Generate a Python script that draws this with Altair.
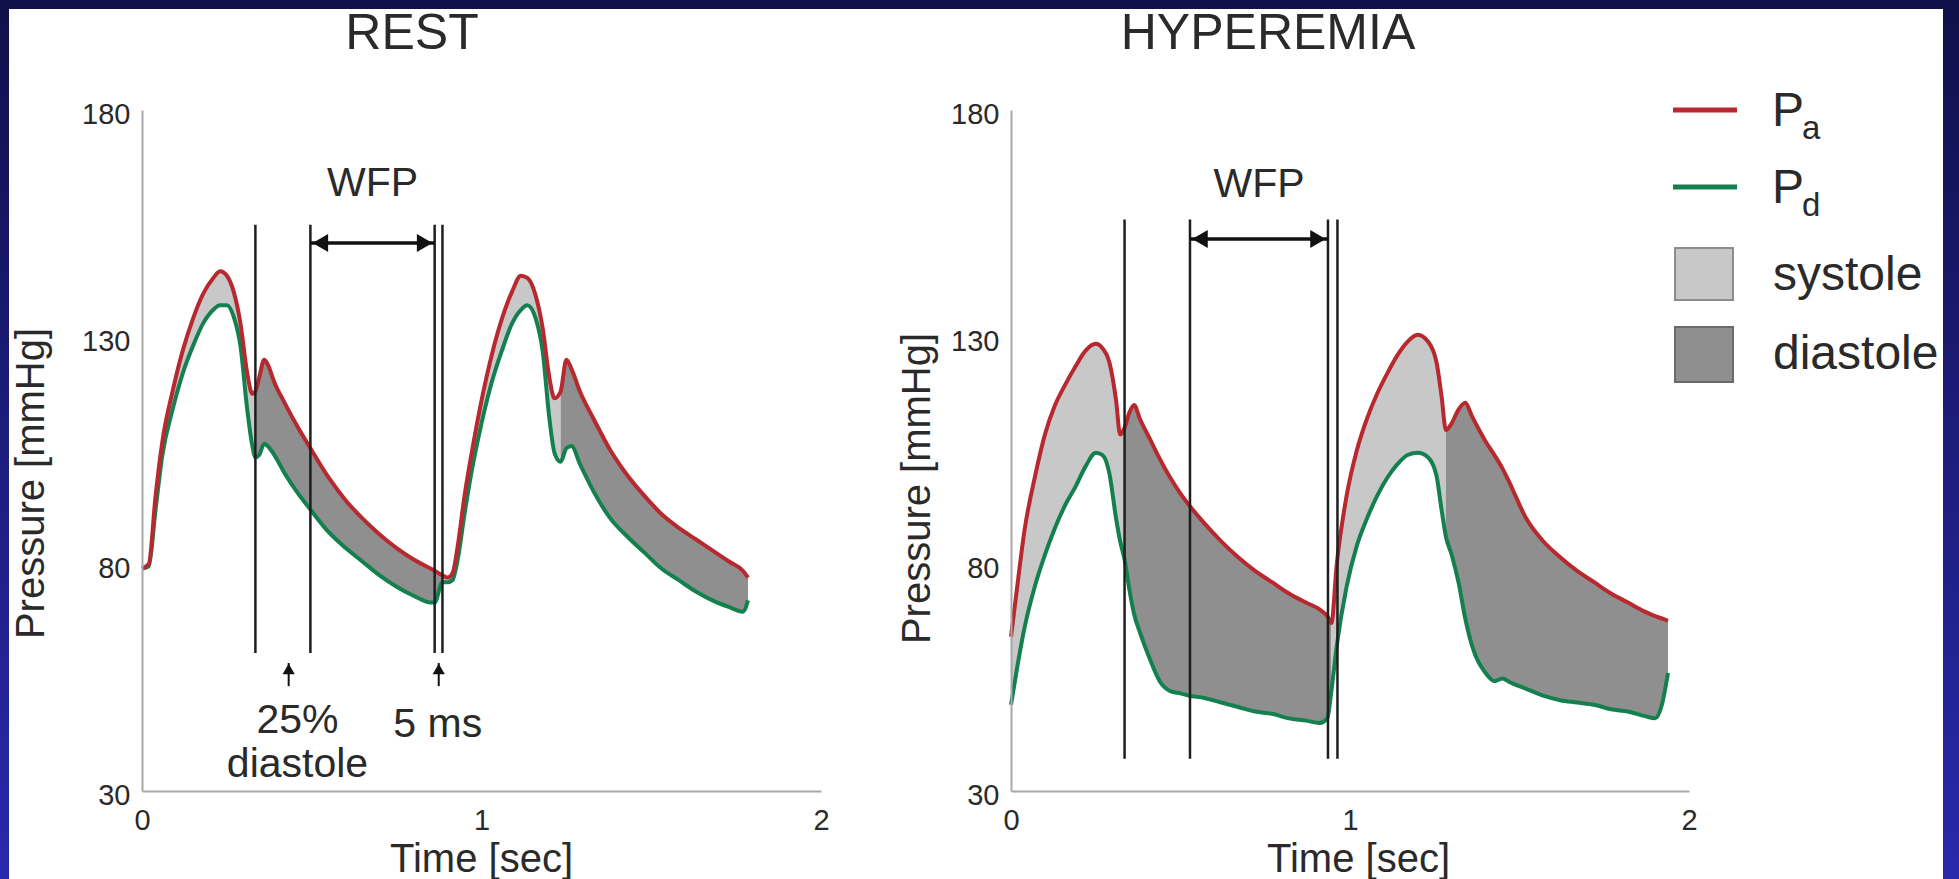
import altair as alt
import pandas as pd

FONT = "Liberation Sans"
RED = "#b8282f"
GREEN = "#14804f"
SYS_FILL = "#c8c8c8"
DIA_FILL = "#8f8f8f"
TXT = "#2a2a2a"

# ---------------- REST panel data ----------------
rest_t = [0.00, 0.02, 0.04, 0.06, 0.09, 0.12, 0.15, 0.18, 0.21, 0.23, 0.25, 0.27, 0.29, 0.31,
          0.325, 0.334, 0.345, 0.36, 0.37, 0.39, 0.42, 0.46, 0.496, 0.55, 0.60, 0.65, 0.70,
          0.75, 0.80, 0.85, 0.862, 0.885, 0.90, 0.915, 0.93, 0.95, 0.97, 1.00, 1.03, 1.06,
          1.09, 1.116, 1.135, 1.16, 1.18, 1.20, 1.215, 1.233, 1.25, 1.265, 1.29, 1.33, 1.38,
          1.43, 1.48, 1.53, 1.58, 1.63, 1.68, 1.73, 1.77, 1.785]
rest_pa = [79, 80, 95, 107, 118, 127, 134, 139.5, 143, 144.5, 143.5, 140, 133, 122,
           117.5, 118, 121, 125, 124, 120, 115.5, 110, 105.5, 99, 94, 90, 86.5,
           83.5, 81, 79, 78.5, 77.5, 77, 78, 84, 95, 104, 116, 126, 134,
           140, 143.5, 143, 139, 132, 121, 116.5, 118, 125, 123, 118, 112, 105,
           99.5, 95, 91, 88, 85.5, 83, 80.5, 78.5, 77]
rest_pd = [79, 79.5, 92, 104, 114, 122, 128, 133, 136, 137, 137, 134.5, 128, 114,
           106, 103.5, 104, 106.5, 106, 104, 100, 95.5, 92, 87, 83.5, 80.5, 77.5,
           75, 73, 71.5, 71.5, 76, 76, 76.5, 81, 91, 100, 111, 120, 127,
           133, 136, 137, 134, 127, 112, 104.5, 102.5, 105.5, 106, 102, 96, 90,
           86, 82.5, 79, 76.5, 74, 72, 70.5, 69.5, 72]
rest_edges = [0.0, 0.334, 0.885, 1.233, 1.785]
rest_phases = ["systole", "diastole", "systole", "diastole"]
rest_vlines = [0.334, 0.496, 0.862, 0.885]
rest_vline_span = [60.4, 154.7]
rest_wfp = [0.496, 0.862]
rest_wfp_p = 150.7
rest_wfp_text_p = 163.7
rest_up_arrows_t = [0.432, 0.874]
rest_up_arrow_span = [53.1, 58.2]
rest_notes_text = ["25%", "diastole", "5 ms"]
rest_notes_t = [0.458, 0.458, 0.871]
rest_notes_p = [45.4, 35.7, 44.5]

# ---------------- HYPEREMIA panel data ----------------
hyp_t = [0.00, 0.02, 0.04, 0.07, 0.10, 0.13, 0.16, 0.19, 0.22, 0.25, 0.27, 0.29, 0.31, 0.322,
         0.335, 0.35, 0.363, 0.38, 0.41, 0.44, 0.47, 0.50, 0.525, 0.57, 0.62, 0.67, 0.72,
         0.77, 0.82, 0.87, 0.91, 0.933, 0.945, 0.961, 0.99, 1.02, 1.05, 1.08, 1.11, 1.14,
         1.17, 1.20, 1.23, 1.255, 1.27, 1.283, 1.30, 1.32, 1.34, 1.36, 1.40, 1.426, 1.45,
         1.47, 1.52, 1.57, 1.62, 1.67, 1.72, 1.77, 1.82, 1.87, 1.90, 1.92, 1.938]
hyp_pa = [64, 76, 87.5, 99, 108.5, 115, 119.5, 123.5, 127, 128.5, 127.5, 124.5, 116, 108.5,
          110, 113.5, 115, 112, 107.5, 103, 99, 95.5, 93, 89, 85, 81.5, 78.5,
          76, 73.5, 71.5, 70, 68.5, 67, 80, 95, 105, 112, 117.5, 122, 126,
          129, 130.5, 129, 124.5, 117, 109.5, 111, 114, 115.5, 112.5, 107, 104, 101,
          98, 90, 85, 81.5, 78.5, 76, 73.5, 71.5, 69.5, 68.5, 68, 67.5]
hyp_pd = [49, 58, 66, 75, 82, 88, 93, 97, 101.5, 104.5, 104, 100, 90, 85,
          81, 74, 69, 65, 59, 54, 52, 51.5, 51, 50.5, 49.5, 48.5, 47.5,
          47, 46, 45.5, 45, 46, 52, 62, 75, 84, 90, 95, 99, 102,
          104, 104.5, 103.5, 99.5, 92, 86, 82, 76, 68, 62, 56, 54.2, 54.8,
          54, 52.5, 51, 50, 49.5, 49, 48, 47.5, 46.5, 46, 49, 56]
hyp_edges = [0.0, 0.335, 0.945, 1.283, 1.938]
hyp_phases = ["systole", "diastole", "systole", "diastole"]
hyp_vlines = [0.335, 0.528, 0.935, 0.963]
hyp_vline_span = [37.1, 155.9]
hyp_wfp = [0.528, 0.935]
hyp_wfp_p = 151.6
hyp_wfp_text_p = 163.4

# ---------------- legend / titles / ticks ----------------
panel_titles = ["REST", "HYPEREMIA"]
legend_line_labels = ["a", "d"]
legend_box_labels = ["systole", "diastole"]
x_ticks = [0, 1, 2]
y_ticks = [30, 80, 130, 180]

X_TITLE = "Time [sec]"
Y_TITLE = "Pressure [mmHg]"

W_LEFT, W_RIGHT, H = 679, 678, 681
ORIGIN_X, ORIGIN_Y = 142, 110
SPACING = 190
INTERP = "monotone"


def one():
    return pd.DataFrame({"k": [0]})


def xenc(field, title_x_shift=0):
    return alt.X(field, type="quantitative",
                 scale=alt.Scale(domain=[0, 2], nice=False, zero=False),
                 axis=alt.Axis(values=x_ticks, tickCount=10, title=X_TITLE,
                               labelExpr="toString(round(datum.value))",
                               labelPadding=15, titleY=68, titleBaseline="middle",
                               titleX=339 + title_x_shift, zindex=2,
                               labelOverlap=False, labelFlush=False, labelBound=False))


def yenc(field, title_x, title_y):
    return alt.Y(field, type="quantitative",
                 scale=alt.Scale(domain=[30, 180], nice=False, zero=False),
                 axis=alt.Axis(values=y_ticks, tickCount=10, title=Y_TITLE,
                               labelPadding=12, labelOffset=4, zindex=2,
                               labelOverlap=False, labelFlush=False, labelBound=False,
                               titleX=title_x, titleY=title_y, titleAngle=270,
                               titleBaseline="middle", titleAlign="center"))


def panel(t, pa, pdv, edges, phases, vlines, vspan, wfp, wfp_p, wfp_text_p,
          title, title_dx, ytx, yty, xts, extra=None, background=False):
    X = lambda f: xenc(f, xts)
    Y = lambda f: yenc(f, ytx, yty)

    # segmented fill data (boundary samples belong to both neighbours)
    rows = []
    for i, ph in enumerate(phases):
        for tt, a, d in zip(t, pa, pdv):
            if edges[i] <= tt <= edges[i + 1]:
                rows.append({"t": tt, "pa": a, "pd": d, "phase": ph, "seg": i})
    fill_df = pd.DataFrame(rows)

    layers = []
    if background:
        grad = alt.LinearGradient(
            gradient="linear",
            stops=[alt.GradientStop(color="#10104a", offset=0),
                   alt.GradientStop(color="#2929ac", offset=1)],
            x1=0, x2=0, y1=0, y2=1)
        layers.append(alt.Chart(one()).mark_rect(color=grad).encode(
            x=alt.value(-ORIGIN_X), x2=alt.value(1959 - ORIGIN_X),
            y=alt.value(-ORIGIN_Y), y2=alt.value(879 - ORIGIN_Y)))
        layers.append(alt.Chart(one()).mark_rect(color="white").encode(
            x=alt.value(9 - ORIGIN_X), x2=alt.value(1943 - ORIGIN_X),
            y=alt.value(9 - ORIGIN_Y), y2=alt.value(879 - ORIGIN_Y)))

    area = alt.Chart(fill_df).mark_area(opacity=1, interpolate=INTERP).encode(
        x=X("t"), y=Y("pa"), y2="pd:Q",
        fill=alt.Fill("phase:N", scale=alt.Scale(domain=["systole", "diastole"],
                                                 range=[SYS_FILL, DIA_FILL]), legend=None),
        detail="seg:N")
    layers.append(area)

    pd_df = pd.DataFrame({"t": t, "p": pdv})
    pa_df = pd.DataFrame({"t": t, "p": pa})
    layers.append(alt.Chart(pd_df).mark_line(color=GREEN, strokeWidth=4, strokeJoin="round",
                                             interpolate=INTERP)
                  .encode(x=X("t"), y=Y("p")))
    layers.append(alt.Chart(pa_df).mark_line(color=RED, strokeWidth=4, strokeJoin="round",
                                             interpolate=INTERP)
                  .encode(x=X("t"), y=Y("p")))

    vl_df = pd.DataFrame({"t": vlines, "lo": vspan[0], "hi": vspan[1]})
    layers.append(alt.Chart(vl_df).mark_rule(color="#1e1e1e", strokeWidth=2.5)
                  .encode(x=X("t"), y=Y("lo"), y2="hi:Q"))

    # WFP double arrow
    wfp_df = pd.DataFrame({"t": [wfp[0]], "t2": [wfp[1]], "p": [wfp_p]})
    layers.append(alt.Chart(wfp_df).mark_rule(color="#111", strokeWidth=3.5)
                  .encode(x=X("t"), x2="t2:Q", y=Y("p")))
    layers.append(alt.Chart(pd.DataFrame({"t": [wfp[0]], "p": [wfp_p]}))
                  .mark_point(shape="triangle-left", filled=True, size=320, color="#111",
                              opacity=1, xOffset=10)
                  .encode(x=X("t"), y=Y("p")))
    layers.append(alt.Chart(pd.DataFrame({"t": [wfp[1]], "p": [wfp_p]}))
                  .mark_point(shape="triangle-right", filled=True, size=320, color="#111",
                              opacity=1, xOffset=-10)
                  .encode(x=X("t"), y=Y("p")))
    layers.append(alt.Chart(pd.DataFrame({"t": [(wfp[0] + wfp[1]) / 2], "p": [wfp_text_p],
                                          "s": ["WFP"]}))
                  .mark_text(font=FONT, fontSize=41, color=TXT, baseline="middle", align="center")
                  .encode(x=X("t"), y=Y("p"), text="s:N"))

    # panel title
    layers.append(alt.Chart(one()).mark_text(text=title, font=FONT, fontSize=50, color=TXT,
                                             baseline="middle", align="center")
                  .encode(x=alt.value(title_dx), y=alt.value(-76)))

    if extra:
        layers.extend(extra(X, Y))

    return alt.layer(*layers).properties(width=W_LEFT if background else W_RIGHT, height=H)


def rest_extra(X, Y):
    out = []
    arr_df = pd.DataFrame({"t": rest_up_arrows_t, "lo": rest_up_arrow_span[0],
                           "hi": rest_up_arrow_span[1]})
    out.append(alt.Chart(arr_df).mark_rule(color="#111", strokeWidth=2)
               .encode(x=X("t"), y=Y("lo"), y2="hi:Q"))
    out.append(alt.Chart(arr_df).mark_point(shape="triangle-up", filled=True, size=150,
                                            color="#111", opacity=1, yOffset=6)
               .encode(x=X("t"), y=Y("hi")))
    notes = pd.DataFrame({"t": rest_notes_t, "p": rest_notes_p, "s": rest_notes_text})
    out.append(alt.Chart(notes).mark_text(font=FONT, fontSize=41, color=TXT,
                                          baseline="middle", align="center")
               .encode(x=X("t"), y=Y("p"), text="s:N"))
    return out


def hyp_extra(X, Y):
    out = []
    # legend: line symbols
    for lab, col, yy in zip(legend_line_labels, [RED, GREEN], [0, 77]):
        out.append(alt.Chart(one()).mark_rule(color=col, strokeWidth=5)
                   .encode(x=alt.value(662), x2=alt.value(726), y=alt.value(yy)))
        out.append(alt.Chart(one()).mark_text(text="P", font=FONT, fontSize=48, color=TXT,
                                              align="left", baseline="alphabetic")
                   .encode(x=alt.value(761), y=alt.value(yy + 16)))
        out.append(alt.Chart(one()).mark_text(text=lab, font=FONT, fontSize=33, color=TXT,
                                              align="left", baseline="alphabetic")
                   .encode(x=alt.value(791), y=alt.value(yy + 29)))
    # legend: boxes
    for lab, col, stroke, y0, y1, yb in zip(legend_box_labels, [SYS_FILL, DIA_FILL],
                                            ["#8c8c8c", "#6a6a6a"], [138, 217], [190, 272],
                                            [180, 259]):
        out.append(alt.Chart(one()).mark_rect(color=col, stroke=stroke, strokeWidth=2)
                   .encode(x=alt.value(664), x2=alt.value(722), y=alt.value(y0), y2=alt.value(y1)))
        out.append(alt.Chart(one()).mark_text(text=lab, font=FONT, fontSize=48, color=TXT,
                                              align="left", baseline="alphabetic")
                   .encode(x=alt.value(762), y=alt.value(yb)))
    return out


left = panel(rest_t, rest_pa, rest_pd, rest_edges, rest_phases, rest_vlines, rest_vline_span,
             rest_wfp, rest_wfp_p, rest_wfp_text_p, panel_titles[0], 270, -111, 373, 0,
             extra=rest_extra, background=True)
right = panel(hyp_t, hyp_pa, hyp_pd, hyp_edges, hyp_phases, hyp_vlines, hyp_vline_span,
              hyp_wfp, hyp_wfp_p, hyp_wfp_text_p, panel_titles[1], 257, -94, 378, 8,
              extra=hyp_extra)

chart = alt.hconcat(left, right, spacing=SPACING, bounds="flush").properties(
    padding={"left": 0, "top": 0, "right": 0, "bottom": 0},
    background="#1b1b70",
).configure_view(stroke=None).configure_axis(
    domainColor="#a8a8a8", domainWidth=2, ticks=False, grid=False,
    labelFont=FONT, labelFontSize=29, labelColor=TXT,
    titleFont=FONT, titleFontSize=40, titleFontWeight="normal", titleColor=TXT,
)

chart.save("out.html", embed_options={"renderer": "svg", "actions": False})
